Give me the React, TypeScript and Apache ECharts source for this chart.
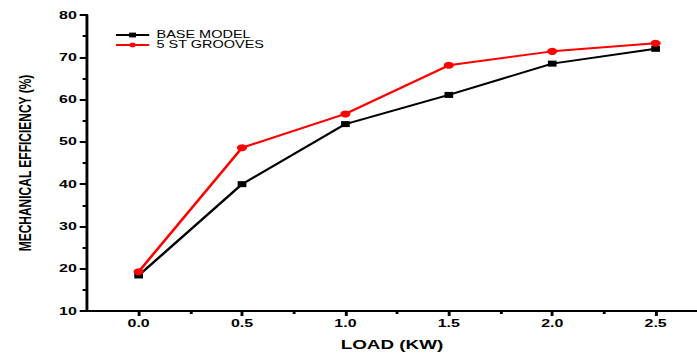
import React, { useEffect, useRef } from "react";
import * as echarts from "echarts";

const loads = [0.0, 0.5, 1.0, 1.5, 2.0, 2.5];
const baseModel = [18.4, 40.0, 54.2, 61.1, 68.5, 72.0];
const grooves = [19.3, 48.6, 56.6, 68.1, 71.4, 73.3];
const xMajorTicks = [0, 0.5, 1.0, 1.5, 2.0, 2.5];
const xMinorTicks = [0.25, 0.75, 1.25, 1.75, 2.25];
const xLabels = [0, 0.5, 1.0, 1.5, 2.0, 2.5];

const FONT = "Liberation Sans, Arial, sans-serif";
// the reference picture is stretched horizontally; render narrower and stretch
const STRETCH = 1.449;
const W = 481;
const H = 356;

export default function App() {
  const ref = useRef<HTMLDivElement>(null);
  useEffect(() => {
    const chart = echarts.init(ref.current!, null, { renderer: "svg" });
    const black = { color: "#000", width: 2 };
    chart.setOption({
      animation: false,
      backgroundColor: "#fff",
      grid: { left: 60, right: 0, top: 15, bottom: 40 },
      legend: {
        orient: "vertical",
        left: 79,
        top: 30,
        padding: 0,
        itemWidth: 23,
        itemHeight: 6,
        itemGap: 0,
        textStyle: { fontFamily: FONT, fontSize: 10, lineHeight: 10, color: "#000" },
        data: ["BASE MODEL", "5 ST GROOVES"],
      },
      xAxis: [
        {
          type: "value",
          min: -0.25,
          max: 2.7,
          name: "LOAD (KW)",
          nameLocation: "middle",
          nameGap: 27,
          nameTextStyle: { fontFamily: FONT, fontWeight: "bold", fontSize: 13, color: "#000" },
          splitLine: { show: false },
          axisLine: { onZero: false, lineStyle: black },
          axisTick: { customValues: xMajorTicks, length: 5, lineStyle: black },
          axisLabel: {
            customValues: xLabels,
            formatter: (v: number) => v.toFixed(1),
            fontFamily: FONT,
            fontWeight: "bold",
            fontSize: 11,
            color: "#000",
            margin: 7,
          },
        },
        {
          type: "value",
          min: -0.25,
          max: 2.7,
          position: "bottom",
          splitLine: { show: false },
          axisLine: { show: false, onZero: false },
          axisTick: { customValues: xMinorTicks, length: 3, lineStyle: black },
          axisLabel: { show: false },
        },
      ],
      yAxis: {
        type: "value",
        min: 10,
        max: 80,
        interval: 10,
        name: "MECHANICAL EFFICIENCY (%)",
        nameLocation: "middle",
        nameGap: 37,
        nameTextStyle: { fontFamily: FONT, fontWeight: "bold", fontSize: 12, color: "#000" },
        splitLine: { show: false },
        axisLine: { show: true, onZero: false, lineStyle: black },
        axisTick: { length: 5, lineStyle: black },
        minorTick: { show: true, splitNumber: 2, length: 3, lineStyle: black },
        axisLabel: { fontFamily: FONT, fontWeight: "bold", fontSize: 11, color: "#000", margin: 7 },
      },
      series: [
        {
          name: "BASE MODEL",
          type: "line",
          xAxisIndex: 0,
          data: loads.map((x, i) => [x, baseModel[i]]),
          symbol: "rect",
          symbolSize: 6,
          itemStyle: { color: "#000" },
          lineStyle: { color: "#000", width: 2 },
        },
        {
          name: "5 ST GROOVES",
          type: "line",
          xAxisIndex: 0,
          data: loads.map((x, i) => [x, grooves[i]]),
          symbol: "circle",
          symbolSize: 7,
          itemStyle: { color: "#ff0000" },
          lineStyle: { color: "#ff0000", width: 2 },
        },
      ],
    });
    return () => chart.dispose();
  }, []);
  return (
    <div
      ref={ref}
      style={{
        width: W,
        height: H,
        position: "absolute",
        left: 0,
        top: 0,
        transform: `scaleX(${STRETCH})`,
        transformOrigin: "0 0",
      }}
    />
  );
}
